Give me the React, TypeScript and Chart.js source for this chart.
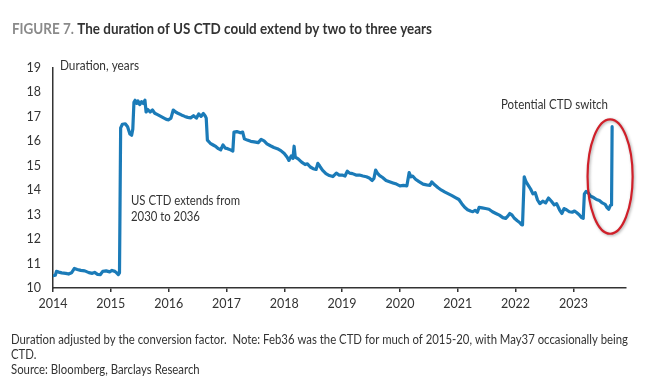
import React, { useEffect, useRef } from "react";
import { Chart, registerables } from "chart.js";

Chart.register(...registerables);

// Decimal-year dates and CTD duration (years)
const dates: number[] = [
  2014.00, 2014.04, 2014.06, 2014.10, 2014.15, 2014.22, 2014.27, 2014.32, 2014.37, 2014.42,
  2014.48, 2014.55, 2014.62, 2014.68, 2014.72, 2014.77, 2014.82, 2014.86, 2014.92, 2014.98,
  2015.02, 2015.07, 2015.10, 2015.13, 2015.15, 2015.17, 2015.20, 2015.25, 2015.29, 2015.33,
  2015.36, 2015.38, 2015.40, 2015.42, 2015.45, 2015.47, 2015.50, 2015.53, 2015.56, 2015.59,
  2015.61, 2015.64, 2015.68, 2015.72, 2015.76, 2015.80, 2015.84, 2015.88, 2015.92, 2015.96,
  2016.00, 2016.04, 2016.08, 2016.12, 2016.16, 2016.22, 2016.28, 2016.33, 2016.38, 2016.43,
  2016.48, 2016.52, 2016.56, 2016.60, 2016.63, 2016.65, 2016.67, 2016.72, 2016.77, 2016.82,
  2016.86, 2016.90, 2016.94, 2016.98, 2017.02, 2017.07, 2017.11, 2017.13, 2017.18, 2017.24,
  2017.28, 2017.31, 2017.36, 2017.42, 2017.48, 2017.55, 2017.60, 2017.65, 2017.70, 2017.76,
  2017.82, 2017.88, 2017.94, 2018.00, 2018.05, 2018.08, 2018.12, 2018.15, 2018.17, 2018.19,
  2018.24, 2018.30, 2018.36, 2018.40, 2018.45, 2018.50, 2018.55, 2018.58, 2018.61, 2018.66,
  2018.72, 2018.78, 2018.84, 2018.90, 2018.95, 2019.00, 2019.05, 2019.09, 2019.13, 2019.18,
  2019.24, 2019.30, 2019.36, 2019.42, 2019.47, 2019.52, 2019.55, 2019.58, 2019.61, 2019.65,
  2019.70, 2019.76, 2019.82, 2019.88, 2019.94, 2020.00, 2020.06, 2020.12, 2020.16, 2020.19,
  2020.22, 2020.27, 2020.33, 2020.40, 2020.46, 2020.52, 2020.55, 2020.60, 2020.66, 2020.72,
  2020.78, 2020.84, 2020.90, 2020.96, 2021.02, 2021.07, 2021.12, 2021.17, 2021.22, 2021.26,
  2021.30, 2021.34, 2021.37, 2021.42, 2021.48, 2021.54, 2021.60, 2021.66, 2021.72, 2021.78,
  2021.83, 2021.87, 2021.90, 2021.94, 2021.98, 2022.03, 2022.07, 2022.10, 2022.12, 2022.15,
  2022.18, 2022.22, 2022.26, 2022.30, 2022.34, 2022.38, 2022.42, 2022.47, 2022.52, 2022.57,
  2022.62, 2022.67, 2022.71, 2022.76, 2022.80, 2022.84, 2022.88, 2022.93, 2022.98, 2023.02,
  2023.06, 2023.10, 2023.14, 2023.17, 2023.19, 2023.22, 2023.26, 2023.30, 2023.35, 2023.40,
  2023.45, 2023.50, 2023.55, 2023.58, 2023.61, 2023.64, 2023.66, 2023.67,
];

const durations: number[] = [
  10.50, 10.52, 10.68, 10.65, 10.62, 10.60, 10.57, 10.62, 10.80, 10.76,
  10.72, 10.70, 10.63, 10.60, 10.64, 10.56, 10.55, 10.68, 10.70, 10.66,
  10.72, 10.68, 10.62, 10.55, 10.62, 16.55, 16.70, 16.72, 16.60, 16.30,
  16.25, 16.50, 17.60, 17.68, 17.55, 17.65, 17.50, 17.62, 17.55, 17.68,
  17.20, 17.30, 17.20, 17.28, 17.15, 17.10, 17.05, 17.00, 16.95, 16.90,
  16.88, 16.95, 17.28, 17.20, 17.15, 17.08, 17.02, 16.98, 16.96, 17.05,
  16.95, 17.12, 17.02, 17.14, 17.05, 16.95, 16.05, 15.92, 15.85, 15.78,
  15.70, 15.65, 15.85, 15.72, 15.70, 15.65, 15.60, 16.38, 16.40, 16.35,
  16.38, 16.10, 16.05, 16.00, 15.98, 15.95, 16.08, 16.02, 15.90, 15.82,
  15.75, 15.70, 15.62, 15.50, 15.35, 15.22, 15.40, 15.30, 15.80, 15.35,
  15.28, 15.15, 15.05, 15.08, 14.95, 14.88, 14.85, 15.10, 15.00, 14.82,
  14.68, 14.60, 14.56, 14.70, 14.62, 14.62, 14.58, 14.78, 14.70, 14.68,
  14.62, 14.62, 14.58, 14.55, 14.50, 14.40, 14.48, 14.82, 14.70, 14.60,
  14.52, 14.40, 14.35, 14.30, 14.25, 14.18, 14.20, 14.18, 14.72, 14.55,
  14.58, 14.45, 14.35, 14.25, 14.22, 14.20, 14.34, 14.22, 14.10, 14.00,
  13.92, 13.85, 13.78, 13.70, 13.62, 13.45, 13.30, 13.20, 13.15, 13.12,
  13.18, 13.10, 13.30, 13.28, 13.25, 13.22, 13.12, 13.05, 12.98, 12.88,
  12.85, 12.95, 13.05, 12.98, 12.85, 12.75, 12.68, 12.60, 12.58, 14.55,
  14.35, 14.20, 14.05, 13.85, 13.90, 13.60, 13.45, 13.55, 13.48, 13.68,
  13.55, 13.40, 13.45, 13.20, 13.05, 13.25, 13.20, 13.12, 13.10, 13.15,
  13.08, 13.00, 12.88, 12.85, 13.85, 13.95, 13.88, 13.75, 13.70, 13.62,
  13.58, 13.48, 13.42, 13.30, 13.22, 13.38, 13.40, 16.60,
];

const xTickYears: number[] = [2014, 2015, 2016, 2017, 2018, 2019, 2020, 2021, 2022, 2023];

const titleLead = "FIGURE 7.";
const titleText = " The duration of US CTD could extend by two to three years";
const yAxisTitle = "Duration, years";
const noteLines: string[] = ["US CTD extends from", "2030 to 2036"];
const switchLabel = "Potential CTD switch";
const footerLines: string[] = [
  "Duration adjusted by the conversion factor.  Note: Feb36 was the CTD for much of 2015-20, with May37 occasionally being",
  "CTD.",
  "Source: Bloomberg, Barclays Research",
];

const FONT = "Lato, 'Open Sans', sans-serif";
const LINE_COLOR = "#1b7bb8";
const TEXT_COLOR = "#333333";

function fillScaled(ctx: CanvasRenderingContext2D, text: string, x: number, y: number, sx: number) {
  ctx.save();
  ctx.translate(x, y);
  ctx.scale(sx, 1);
  ctx.fillText(text, 0, 0);
  ctx.restore();
}

const overlayPlugin = {
  id: "overlay",
  afterDraw(chart: any) {
    const ctx = chart.ctx as CanvasRenderingContext2D;
    const xs = chart.scales.x;
    const ys = chart.scales.y;
    ctx.save();
    ctx.textBaseline = "middle";
    ctx.textAlign = "left";

    // Title (fit to width)
    ctx.font = `bold 14.5px ${FONT}`;
    const w1 = ctx.measureText(titleLead).width;
    const w2 = ctx.measureText(titleText).width;
    const sx = 420 / (w1 + w2);
    ctx.save();
    ctx.translate(12, 29);
    ctx.scale(sx, 1);
    ctx.fillStyle = "#8a8a8a";
    ctx.fillText(titleLead, 0, 0);
    ctx.fillStyle = "#333333";
    ctx.fillText(titleText, w1, 0);
    ctx.restore();

    // Axis title
    ctx.fillStyle = TEXT_COLOR;
    ctx.font = `12.5px ${FONT}`;
    fillScaled(ctx, yAxisTitle, 60, 66, 79 / ctx.measureText(yAxisTitle).width);

    // Annotations
    ctx.font = `12.5px ${FONT}`;
    const ns = 109 / ctx.measureText(noteLines[0]).width;
    fillScaled(ctx, noteLines[0], 131, 201, ns);
    fillScaled(ctx, noteLines[1], 131, 217, ns);
    fillScaled(ctx, switchLabel, 501, 105, 107 / ctx.measureText(switchLabel).width);

    // Red ellipse around the switch
    const cx = xs.getPixelForValue(2023.635);
    const cy = ys.getPixelForValue(14.56);
    const rx = xs.getPixelForValue(2023.635 + 0.39) - cx;
    const ry = cy - ys.getPixelForValue(14.56 + 2.34);
    ctx.save();
    ctx.shadowColor = "rgba(0,0,0,0.35)";
    ctx.shadowBlur = 3;
    ctx.shadowOffsetX = 1;
    ctx.shadowOffsetY = 1;
    ctx.strokeStyle = "#d0202a";
    ctx.lineWidth = 2.2;
    ctx.beginPath();
    ctx.ellipse(cx, cy, rx, ry, 0, 0, Math.PI * 2);
    ctx.stroke();
    ctx.restore();

    // Footer
    ctx.font = `12.5px ${FONT}`;
    ctx.fillStyle = TEXT_COLOR;
    const fs = 617 / ctx.measureText(footerLines[0]).width;
    const fy = [340, 355, 370];
    footerLines.forEach((line, i) => fillScaled(ctx, line, 11, fy[i], fs));

    ctx.restore();
  },
};

export default function App() {
  const canvasRef = useRef<HTMLCanvasElement | null>(null);

  useEffect(() => {
    if (!canvasRef.current) return;
    const chart = new Chart(canvasRef.current, {
      type: "line",
      data: {
        datasets: [
          {
            data: dates.map((d, i) => ({ x: d, y: durations[i] })),
            borderColor: LINE_COLOR,
            borderWidth: 3.2,
            pointRadius: 0,
            tension: 0,
            fill: false,
            borderJoinStyle: "round",
            borderCapStyle: "round",
          },
        ],
      },
      options: {
        animation: false,
        responsive: false,
        maintainAspectRatio: false,
        layout: { padding: { top: 68, right: 24, left: 0, bottom: 0 } },
        plugins: {
          legend: { display: false },
          tooltip: { enabled: false },
          title: { display: false },
        },
        scales: {
          x: {
            type: "linear",
            min: 2014,
            max: 2023.91,
            afterFit: (s: any) => {
              s.height = 99;
            },
            afterBuildTicks: (s: any) => {
              s.ticks = xTickYears.map((v) => ({ value: v }));
            },
            ticks: {
              color: TEXT_COLOR,
              font: { family: FONT, size: 12.5 },
              padding: 4,
              maxRotation: 0,
              autoSkip: false,
              callback: (v: any) => String(v),
            },
            grid: {
              display: true,
              drawOnChartArea: false,
              drawTicks: true,
              tickLength: 4,
              color: "#333333",
              lineWidth: 1.5,
            },
            border: { display: true, color: "#333333", width: 1.5 },
          },
          y: {
            min: 10,
            max: 19,
            afterFit: (s: any) => {
              s.width = 53;
            },
            ticks: {
              stepSize: 1,
              color: TEXT_COLOR,
              font: { family: FONT, size: 12.5 },
              padding: 12,
            },
            grid: { display: false, drawTicks: false },
            border: { display: true, color: "#333333", width: 1.5 },
          },
        },
      },
      plugins: [overlayPlugin],
    });
    return () => chart.destroy();
  }, []);

  return (
    <div style={{ position: "absolute", left: 0, top: 0, width: 650, height: 387, background: "#fff" }}>
      <canvas ref={canvasRef} width={650} height={387} />
    </div>
  );
}
